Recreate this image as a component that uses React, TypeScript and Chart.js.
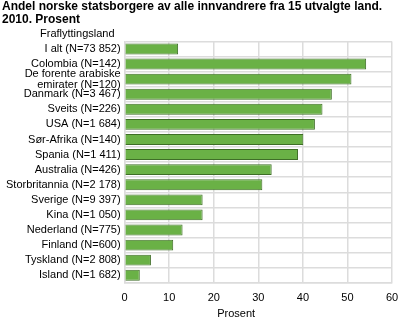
import React, { useEffect, useRef } from "react";
import { Chart, registerables } from "chart.js";

Chart.register(...registerables);

const titleLines = [
  "Andel norske statsborgere av alle innvandrere fra 15 utvalgte land.",
  "2010. Prosent",
];
const axisCaption = "Fraflyttingsland";
const xAxisTitle = "Prosent";

const categories: (string | string[])[] = [
  "I alt (N=73 852)",
  "Colombia (N=142)",
  ["De forente arabiske", "emirater (N=120)"],
  "Danmark (N=3 467)",
  "Sveits (N=226)",
  "USA (N=1 684)",
  "Sør-Afrika (N=140)",
  "Spania (N=1 411)",
  "Australia (N=426)",
  "Storbritannia (N=2 178)",
  "Sverige (N=9 397)",
  "Kina (N=1 050)",
  "Nederland (N=775)",
  "Finland (N=600)",
  "Tyskland (N=2 808)",
  "Island (N=1 682)",
];

const values = [12.0, 54.2, 50.9, 46.5, 44.4, 42.7, 40.1, 38.9, 33.0, 30.9, 17.5, 17.5, 13.0, 10.9, 5.9, 3.4];

const FONT = "'Liberation Sans', Arial, sans-serif";

export default function App() {
  const ref = useRef<HTMLCanvasElement | null>(null);

  useEffect(() => {
    if (!ref.current) return;
    const captionPlugin = {
      id: "caption",
      afterDraw(chart: any) {
        const ctx = chart.ctx;
        const area = chart.chartArea;
        ctx.save();
        ctx.font = `11px ${FONT}`;
        ctx.fillStyle = "#000";
        ctx.textAlign = "left";
        ctx.textBaseline = "alphabetic";
        ctx.fillText(axisCaption, 40, area.top - 4);
        ctx.textAlign = "center";
        ctx.textBaseline = "middle";
        ctx.fillText(xAxisTitle, area.left + (area.right - area.left) * 0.417, area.bottom + 31);
        ctx.restore();
      },
    };
    const chart = new Chart(ref.current, {
      type: "bar",
      data: {
        labels: categories as any,
        datasets: [
          {
            data: values,
            backgroundColor: "#6ab146",
            borderColor: "#3f6e27",
            borderWidth: 1,
            barPercentage: 0.72,
            categoryPercentage: 1,
          },
        ],
      },
      options: {
        indexAxis: "y",
        animation: false,
        responsive: false,
        devicePixelRatio: 1,
        layout: { padding: { left: 2, right: 0, top: 0, bottom: 8 } },
        plugins: {
          legend: { display: false },
          tooltip: { enabled: false },
          title: {
            display: true,
            text: titleLines,
            align: "start",
            color: "#000",
            font: { family: FONT, size: 12, weight: "bold", lineHeight: 1.1 },
            padding: { top: 0, bottom: 15 },
          },
        },
        scales: {
          x: {
            min: 0,
            max: 60,
            ticks: {
              stepSize: 10,
              color: "#000",
              font: { family: FONT, size: 11 },
              padding: 9,
            },
            grid: { color: "#dcdcdc", lineWidth: 1.5, drawTicks: false },
            border: { color: "#dcdcdc", width: 1.5 },
            afterFit(scale: any) {
              scale.paddingRight = 7;
            },
          },
          y: {
            ticks: {
              color: "#000",
              font: { family: FONT, size: 11, lineHeight: 1.0 },
              padding: 4,
              autoSkip: false,
            },
            grid: { color: "#dcdcdc", lineWidth: 1.5, drawTicks: false },
            border: { color: "#dcdcdc", width: 1.5 },
          },
        },
      },
      plugins: [captionPlugin],
    });
    return () => chart.destroy();
  }, []);

  return (
    <div style={{ position: "fixed", left: 0, top: 0, width: 399, height: 322, background: "#fff" }}>
      <canvas ref={ref} width={399} height={322} style={{ display: "block", width: 399, height: 322 }} />
    </div>
  );
}
